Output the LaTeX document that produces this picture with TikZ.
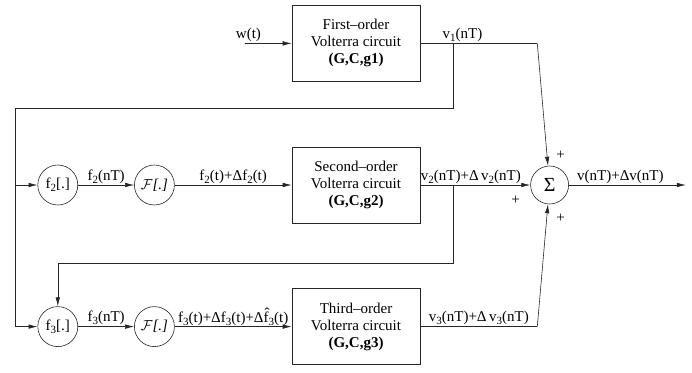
\documentclass[tikz,border=0pt]{standalone}
\usepackage{fontspec}
\setmainfont{Liberation Serif}
\usetikzlibrary{positioning,arrows.meta}

\newcommand{\lowsub}[1]{\raisebox{-0.45ex}{\fontsize{11}{11}\selectfont #1}}
\newcommand{\opF}{$\mathcal{F}$\textit{[.]}}

\tikzset{
  vbox/.style={draw=black!85, line width=0.6pt, minimum width=128pt, minimum height=76pt, align=center},
  op/.style={draw=black!85, line width=0.6pt, circle, minimum size=40pt, inner sep=0pt},
  sumop/.style={op, minimum size=38pt, font=\fontsize{20}{20}\selectfont},
  wire/.style={draw=black!85, line width=0.6pt},
  sig/.style={wire, -{Latex[length=9pt,width=4.5pt]}},
  lbl/.style={above, inner sep=1.5pt}
}

\begin{document}
\begin{tikzpicture}[x=1pt, y=-1pt, font=\fontsize{15}{17}\selectfont]
    \useasboundingbox (0,0) rectangle (692,372);

    % define nodes
    \node[vbox] (v2box) at (356,185) {Second--order\\Volterra circuit\\\textbf{(G,C,g2)}};
    \node[vbox, above=65pt of v2box] (v1box) {First--order\\Volterra circuit\\\textbf{(G,C,g1)}};
    \node[vbox, below=65pt of v2box] (v3box) {Third--order\\Volterra circuit\\\textbf{(G,C,g3)}};

    \node[op, left=117pt of v2box] (F2) {\opF};
    \node[op, left=56pt of F2] (f2) {f\lowsub{2}[.]};
    \node[op, left=117pt of v3box] (F3) {\opF};
    \node[op, left=56pt of F3] (f3) {f\lowsub{3}[.]};

    \node[sumop, right=110pt of v2box] (sum) {Σ};

    \coordinate[left=47pt of v1box] (win);
    \coordinate[right=117pt of v1box] (v1c);
    \coordinate[right=117pt of v3box] (v3c);
    \coordinate[right=33pt of v1box] (b1);
    \coordinate[right=33pt of v2box] (b2);
    \coordinate (fb1) at (15,108);
    \coordinate[below=78pt of b2] (fb2);
    \coordinate[right=117pt of sum] (out);

    % connect the nodes
    \draw[sig] (win) -- node[lbl, pos=0.08] {w(t)} (v1box);
    \draw[wire] (v1box) -- node[lbl, pos=0.36] {v\lowsub{1}(nT)} (v1c);
    \draw[sig] (v1c) -- (sum);

    \draw[sig] (f2) -- node[lbl] {f\lowsub{2}(nT)} (F2);
    \draw[sig] (F2) -- node[lbl] {f\lowsub{2}(t)+Δf\lowsub{2}(t)} (v2box);
    \draw[sig] (v2box) -- node[lbl, pos=0.46] {v\lowsub{2}(nT)+Δ\,v\lowsub{2}(nT)} (sum);
    \draw[sig] (sum) -- node[lbl, pos=0.44] {v(nT)+Δv(nT)} (out);

    \draw[sig] (f3) -- node[lbl] {f\lowsub{3}(nT)} (F3);
    \draw[sig] (F3) -- node[lbl, inner sep=0.5pt] {f\lowsub{3}(t)+Δf\lowsub{3}(t)+Δ\^{f}\lowsub{3}(t)} (v3box);
    \draw[wire] (v3box) -- node[lbl] {v\lowsub{3}(nT)+Δ\,v\lowsub{3}(nT)} (v3c);
    \draw[sig] (v3c) -- (sum);

    % feedback paths
    \draw[sig] (b1) |- (fb1) |- (f3);
    \draw[sig] (fb1 |- f2) -- (f2);
    \draw[sig] (b2) -- (fb2) -| (f3);

    % signs
    \node (p1) at ([shift={(11,-30)}]sum.center) {+};
    \node (p2) at ([shift={(-34,15)}]sum.center) {+};
    \node (p3) at ([shift={(11,33)}]sum.center) {+};

\end{tikzpicture}
\end{document}
